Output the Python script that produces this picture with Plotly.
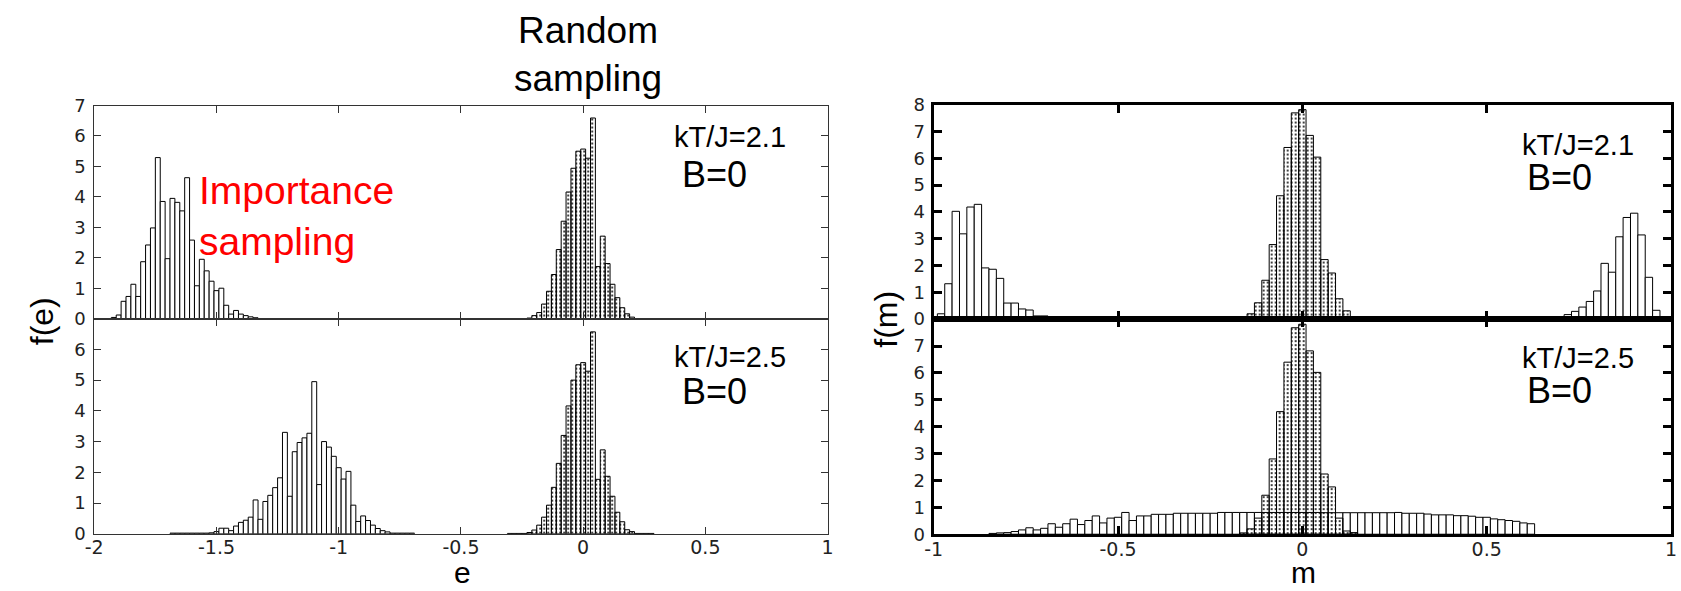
import numpy as np
import plotly.graph_objects as go

W, H = 1681, 591
BIN = 0.02

# ---------------- energy per spin, f(e) ----------------
e_imp_T21_start = -1.92
e_imp_T21 = [0.04, 0.12, 0.57, 0.73, 1.13, 0.73, 1.87, 2.42, 2.98, 5.29,
             3.85, 1.97, 3.95, 3.82, 3.54, 4.63, 2.58, 1.08, 1.95, 1.57,
             1.23, 0.92, 1.0, 0.44, 0.15, 0.27, 0.15, 0.1, 0.06, 0.03]
e_rnd_T21_start = -0.22
e_rnd_T21 = [0.02, 0.1, 0.2, 0.48, 0.9, 1.45, 2.27, 3.2, 4.16, 4.94, 5.5,
             5.57, 5.27, 6.59, 1.71, 2.71, 1.81, 1.13, 0.69, 0.36, 0.16, 0.05]
e_imp_T25_start = -1.68
e_imp_T25 = [0.02, 0.02, 0.02, 0.02, 0.02, 0.02, 0.02, 0.02,
             0.03, 0.07, 0.18, 0.18, 0.1, 0.25, 0.37, 0.44, 0.54, 1.1,
             0.47, 1.05, 1.25, 1.5, 1.82, 3.3, 1.22, 2.67, 2.97, 3.12,
             3.27, 4.95, 1.6, 3.0, 2.82, 2.52, 2.15, 1.78, 2.03, 0.93,
             0.4, 0.58, 0.43, 0.28, 0.17, 0.1, 0.06,
             0.02, 0.02, 0.02, 0.02, 0.02]
e_rnd_T25_start = -0.30
e_rnd_T25 = [0.01, 0.01, 0.01, 0.01, 0.04, 0.12, 0.28, 0.54, 0.93, 1.51,
             2.29, 3.2, 4.16, 5.0, 5.5, 5.57, 5.29, 6.57, 1.77, 2.73, 1.87,
             1.22, 0.7, 0.39, 0.13, 0.07, 0.01, 0.01, 0.01, 0.01]

# ---------------- magnetisation per spin, f(m) ----------------
m_imp_T21_neg_start = -0.98
m_imp_T21_neg = [0.2, 1.32, 4.02, 3.18, 4.18, 4.28, 1.91, 1.86, 1.52, 0.6,
                 0.6, 0.38, 0.34, 0.12, 0.12, 0.07]
m_imp_T21_pos_start = 0.68
m_imp_T21_pos = [0.02, 0.08, 0.17, 0.29, 0.45, 0.66, 1.05, 2.08, 1.75, 3.07,
                 3.79, 3.95, 3.14, 1.56, 0.33]
m_rnd_T21_start = -0.14
m_rnd_T21 = [0.2, 0.61, 1.45, 2.78, 4.6, 6.4, 7.69, 7.81, 6.85, 6.04, 2.22,
             1.72, 0.76, 0.31]
m_imp_T25_start = -0.84
m_imp_T25 = [0.03, 0.05, 0.06, 0.1, 0.16, 0.24, 0.16, 0.22, 0.39, 0.26,
             0.39, 0.56, 0.36, 0.51, 0.68, 0.42, 0.6, 0.63, 0.81, 0.51,
             0.68, 0.68, 0.74, 0.74, 0.74, 0.78,
             0.78, 0.78, 0.78, 0.78, 0.78,
             0.81, 0.81, 0.81, 0.81, 0.81, 0.81, 0.81, 0.81, 0.81, 0.81,
             0.81, 0.81, 0.81, 0.81,
             0.8, 0.8, 0.8, 0.8, 0.8, 0.8, 0.8, 0.8, 0.8, 0.8,
             0.81, 0.78, 0.78, 0.78, 0.75, 0.72, 0.72, 0.72, 0.69, 0.69,
             0.67, 0.63, 0.63, 0.57, 0.54, 0.51, 0.48, 0.42, 0.39]
m_rnd_T25_start = -0.16
m_rnd_T25 = [0.05, 0.2, 0.6, 1.45, 2.8, 4.56, 6.4, 7.68, 7.81, 6.82, 6.02,
             2.24, 1.76, 0.6, 0.12, 0.06]

e_ticks = [-2, -1.5, -1, -0.5, 0, 0.5, 1]
e_ticktext = ["-2", "-1.5", "-1", "-0.5", "0", "0.5", "1"]
m_ticks = [-1, -0.5, 0, 0.5, 1]
m_ticktext = ["-1", "-0.5", "0", "0.5", "1"]


def centers(start, vals):
    return np.round(start + BIN * np.arange(len(vals)), 2)


fig = go.Figure()

PLAIN = dict(color="white", line=dict(color="black", width=1))
DOTS = dict(color="black", line=dict(color="black", width=1),
            pattern=dict(shape=".", fillmode="replace", size=4, solidity=0.2))


def add(start, vals, style, xa, ya):
    fig.add_trace(go.Bar(x=centers(start, vals), y=vals, width=BIN,
                         marker=style, xaxis=xa, yaxis=ya,
                         showlegend=False, hoverinfo="x+y"))


add(e_imp_T21_start, e_imp_T21, PLAIN, "x", "y")
add(e_rnd_T21_start, e_rnd_T21, DOTS, "x", "y")
add(e_imp_T25_start, e_imp_T25, PLAIN, "x2", "y2")
add(e_rnd_T25_start, e_rnd_T25, DOTS, "x2", "y2")
add(m_imp_T21_neg_start, m_imp_T21_neg, PLAIN, "x3", "y3")
add(m_imp_T21_pos_start, m_imp_T21_pos, PLAIN, "x3", "y3")
add(m_rnd_T21_start, m_rnd_T21, DOTS, "x3", "y3")
add(m_imp_T25_start, m_imp_T25, PLAIN, "x4", "y4")
add(m_rnd_T25_start, m_rnd_T25, DOTS, "x4", "y4")

XFONT = dict(family="DejaVu Sans", size=19, color="#222")
YFONT = dict(family="DejaVu Sans", size=18, color="#222")
LX = [86 / W, 826 / W]
RX = [933 / W, 1677 / W]
LTOP = [1 - 319 / H, 1 - 98 / H]
LBOT = [1 - 542 / H, 1 - 319 / H]
RTOP = [1 - 319.5 / H, 1 - 97 / H]
RBOT = [1 - 542.5 / H, 1 - 319.5 / H]

thin = dict(showline=True, linecolor="#333", linewidth=1, mirror="ticks",
            ticks="inside", ticklen=7, tickwidth=1, tickcolor="#333",
            showgrid=False, zeroline=False)
thick = dict(showline=True, linecolor="black", linewidth=3, mirror="ticks",
             ticks="inside", ticklen=8, tickwidth=2.5, tickcolor="black",
             showgrid=False, zeroline=False)

fig.update_layout(
    width=W, height=H, margin=dict(l=0, r=0, t=0, b=0),
    paper_bgcolor="white", plot_bgcolor="white", barmode="overlay",
    showlegend=False,
    xaxis=dict(**thin, domain=LX, range=[-2, 1], anchor="y",
               tickvals=e_ticks[1:-1], showticklabels=False),
    yaxis=dict(**{**thin, "zeroline": True}, domain=LTOP, range=[0, 7], anchor="x",
               tickvals=[0, 1, 2, 3, 4, 5, 6, 7], ticklabelstandoff=4,
               tickfont=YFONT, zerolinecolor="black", zerolinewidth=2),
    xaxis2=dict(**thin, domain=LX, range=[-2, 1], anchor="y2",
                tickvals=e_ticks, ticktext=e_ticktext, tickfont=XFONT,
                ticklabelstandoff=-4),
    yaxis2=dict(**thin, domain=LBOT, range=[0, 7], anchor="x2",
                tickvals=[0, 1, 2, 3, 4, 5, 6], ticklabelstandoff=4, tickfont=YFONT),
    xaxis3=dict(**thick, domain=RX, range=[-1, 1], anchor="y3",
                tickvals=m_ticks[1:-1], showticklabels=False),
    yaxis3=dict(**thick, domain=RTOP, range=[0, 8], anchor="x3",
                tickvals=[0, 1, 2, 3, 4, 5, 6, 7, 8], ticklabelstandoff=2,
                tickfont=YFONT),
    xaxis4=dict(**thick, domain=RX, range=[-1, 1], anchor="y4",
                tickvals=m_ticks, ticktext=m_ticktext, tickfont=XFONT,
                ticklabelstandoff=-4),
    yaxis4=dict(**thick, domain=RBOT, range=[0, 8], anchor="x4",
                tickvals=[0, 1, 2, 3, 4, 5, 6, 7], ticklabelstandoff=2,
                tickfont=YFONT),
)

SANS = "Liberation Sans, Arial, Helvetica, sans-serif"


def note(text, px, py, size, color="black", xanchor="left", angle=0, align="left"):
    fig.add_annotation(text=text, x=px / W, y=1 - py / H, xref="paper", yref="paper",
                       xanchor=xanchor, yanchor="middle", showarrow=False,
                       textangle=angle, align=align,
                       font=dict(family=SANS, size=size, color=color))


note("Random<br>sampling", 584, 45, 37, xanchor="center", align="center")
note("Importance<br>sampling", 190, 213, 39, color="rgb(255,0,0)")

note("kT/J=2.1", 669, 131, 29)
note("B=0", 677, 170, 36)
note("kT/J=2.5", 669, 359, 29)
note("B=0", 677, 395, 36)
note("kT/J=2.1", 1525, 139, 29)
note("B=0", 1530, 173, 36)
note("kT/J=2.5", 1525, 360, 29)
note("B=0", 1530, 393, 36)

note("f(e)", 33, 322, 32, xanchor="center", angle=-90)
note("f(m)", 885, 320, 32, xanchor="center", angle=-90)
note("e", 458, 582, 30, xanchor="center")
note("m", 1306, 582, 30, xanchor="center")

fig.write_html("out.html")
